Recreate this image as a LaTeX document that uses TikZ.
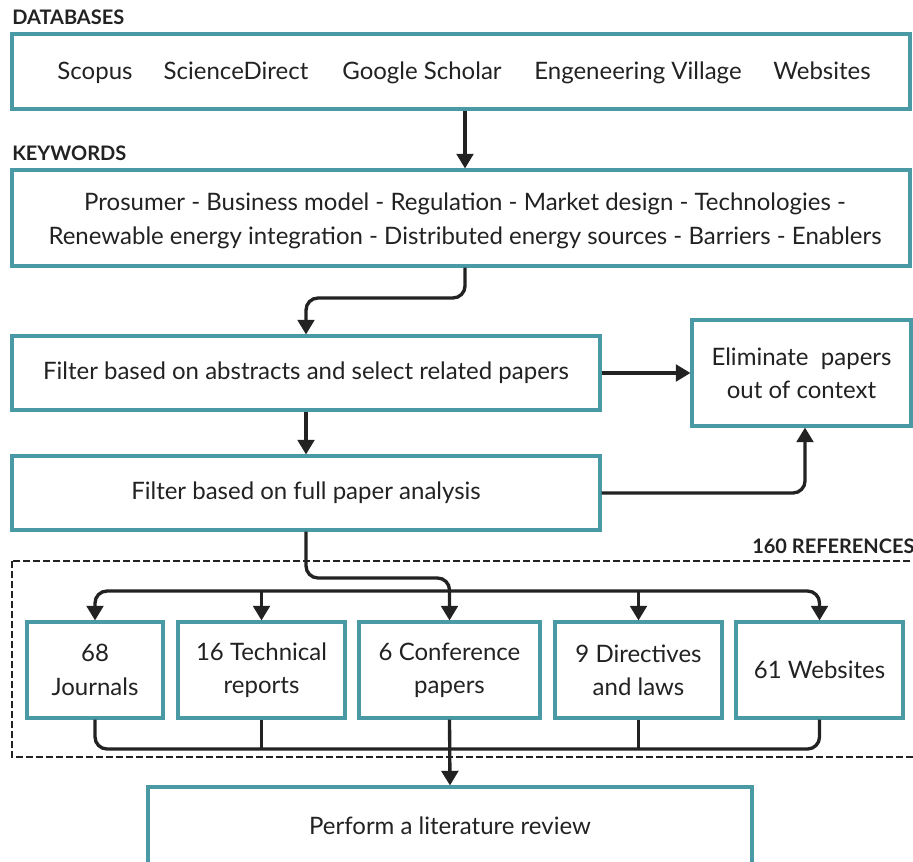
\documentclass[tikz,border=0pt]{standalone}
\usepackage{fontspec}
\setmainfont{Lato}
\usetikzlibrary{arrows.meta,calc}
\definecolor{boxteal}{RGB}{74,154,165}
\definecolor{ink}{RGB}{34,34,34}
\tikzset{
  box/.style={draw=boxteal,line width=2.3pt,fill=white,inner sep=0pt,anchor=center,
              align=center,text=ink,font=\fontsize{18}{25}\selectfont},
  label/.style={text=ink,font=\fontsize{18}{25}\selectfont,inner sep=0pt},
  head/.style={text=ink,font=\bfseries\fontsize{15}{18}\selectfont,inner sep=0pt},
  link/.style={draw=ink,line width=2.5pt,rounded corners=9pt},
  arr/.style={link,-{Triangle[length=11pt,width=12.5pt]}},
}
\begin{document}
\begin{tikzpicture}[x=0.75pt,y=-0.75pt]
\useasboundingbox (0,0) rectangle (913,862);

% section headings
\node[head,anchor=base west] (hdb) at (12,25) {DATABASES};
\node[head,anchor=base west] (hkw) at (12,161) {KEYWORDS};
\node[head,anchor=base west] (href) at (752,553) {160 REFERENCES};

% databases
\node[box,minimum width=673.5pt,minimum height=56.25pt] (db) at (461,71.5) {};
\node[label,anchor=base] (s1) at (95,80) {Scopus};
\node[label,anchor=base] (s2) at (236,80) {ScienceDirect};
\node[label,anchor=base] (s3) at (422,80) {Google Scholar};
\node[label,anchor=base] (s4) at (638,80) {Engeneering Village};
\node[label,anchor=base] (s5) at (822,80) {Websites};

% keywords
\node[box,minimum width=673.5pt,minimum height=72pt] (kw) at (461,218) {};
\node[label,align=center] (kwt) at (465,221) {Prosumer - Business model - Regulation - Market design - Technologies -\\
Renewable energy integration - Distributed energy sources - Barriers - Enablers};

% screening
\node[box,minimum width=441pt,minimum height=55.5pt] (f1) at (306,373) {Filter based on abstracts and select related papers};
\node[box,minimum width=164.25pt,minimum height=79.5pt] (el) at (801.5,373) {Eliminate\ \ papers\\out of context};
\node[box,minimum width=441pt,minimum height=55.5pt] (f2) at (306,493) {Filter based on full paper analysis};

% reference group
\draw[ink,line width=1.8pt,dash pattern=on 5pt off 2.5pt] (12,561) rectangle (935,757);
\node[box,minimum width=102pt,minimum height=72pt] (journ) at (95,670) {68\\Journals};
\node[box,minimum width=125.25pt,minimum height=72pt] (tech) at (261.5,670) {16 Technical\\reports};
\node[box,minimum width=135.75pt,minimum height=72pt] (conf) at (449.5,670) {6 Conference\\papers};
\node[box,minimum width=125.25pt,minimum height=72pt] (dir) at (638.5,670) {9 Directives\\and laws};
\node[box,minimum width=125.25pt,minimum height=72pt] (web) at (819.5,670) {61 Websites};

% final step
\node[box,minimum width=453pt,minimum height=58.5pt] (lit) at (450,826) {Perform a literature review};

% routing helpers
\coordinate (c1) at (465,0);
\coordinate (c3) at (805,0);
\coordinate (kwturn) at (400,298);
\coordinate (fturn) at (380,578);
\coordinate (bus) at (0,591);
\coordinate (bot) at (0,749);

% connectors
\draw[arr] (db.south -| c1) -- (kw.north -| c1);
\draw[arr] (kw.south -| c1) |- (kwturn) -| (f1.north);
\draw[arr] (f1.east) -- (el.west);
\draw[arr] (f1.south) -- (f2.north);
\draw[arr] (f2.east) -| (el.south -| c3);
\draw[arr] (f2.south) |- (fturn) -| (conf.north);
\draw[arr] (conf.north |- bus) -| (journ.north);
\draw[arr] (conf.north |- bus) -| (web.north);
\draw[arr] (tech.north |- bus) -- (tech.north);
\draw[arr] (dir.north |- bus) -- (dir.north);
\draw[link] (journ.south) |- (conf.south |- bot);
\draw[link] (web.south) |- (conf.south |- bot);
\draw[link] (tech.south) -- (tech.south |- bot);
\draw[link] (dir.south) -- (dir.south |- bot);
\draw[arr] (conf.south) -- (lit.north);
\end{tikzpicture}
\end{document}
